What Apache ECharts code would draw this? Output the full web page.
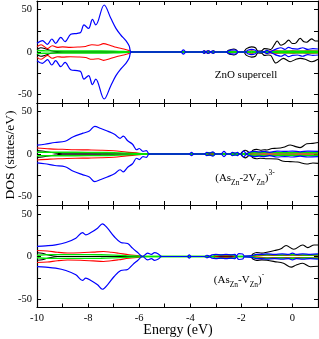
<!DOCTYPE html>
<html><head><meta charset="utf-8">
<script src="https://cdn.jsdelivr.net/npm/echarts@6/dist/echarts.min.js"></script>
<style>html,body{margin:0;padding:0;background:#fff}#c{width:319px;height:339px}</style>
</head><body><div id="c"></div>
<script>
// ---- tick values ----
const energyTicks = [-10,-9,-8,-7,-6,-5,-4,-3,-2,-1,0];
const energyLabels = [-10,-8,-6,-4,-2,0];
const dosTicks = [-50,-25,0,25,50];
const dosLabels = [-50,0,50];
const panelTitles = ['ZnO supercell', '{n|(As}{s|Zn}{n|-2V}{s|Zn}{n|)}{p|3-}', '{n|(As}{s|Zn}{n|-V}{s|Zn}{n|)}{p|-}'];

// ---- panel 1 : ZnO supercell (spin up; spin down mirrored unless given) ----
const p1Black = [[-10,3],[-9.85,5],[-9.65,3.5],[-9.45,1.5],[-9.2,0.5],[-8.9,0],[-3.55,0],[-3.45,1.5],[-3.38,0.5],[-3.3,1.5],[-3.2,0.5],[-3.1,1.5],[-2.98,0],[-2.6,0],[-2.5,2],[-2.4,3],[-2.3,3.5],[-2.2,2.5],[-2.12,0],[-1.9,0.5],[-1.8,4],[-1.6,6],[-1.45,5],[-1.35,1],[-1.2,1.5],[-1.1,4],[-0.95,3.5],[-0.85,3],[-0.7,9],[-0.6,13],[-0.45,8],[-0.3,10],[-0.15,14],[0,10],[0.1,10],[0.3,16],[0.45,12],[0.55,11.5],[0.75,15.5],[0.9,13],[1,13]];
const p1BlackDown = [[-10,-3],[-9.85,-5],[-9.65,-3.5],[-9.45,-1.5],[-9.2,-0.5],[-8.9,0],[-3.55,0],[-3.45,-1.5],[-3.38,-0.5],[-3.3,-1.5],[-3.2,-0.5],[-3.1,-1.5],[-2.98,0],[-2.6,0],[-2.5,-2],[-2.4,-3],[-2.3,-3.5],[-2.2,-2.5],[-2.12,0],[-1.9,-0.5],[-1.8,-4],[-1.6,-6],[-1.45,-5],[-1.35,-1],[-1.2,-1.5],[-1.1,-4],[-0.95,-3.5],[-0.85,-4],[-0.65,-13],[-0.35,-7.5],[-0.09,-11.4],[0.1,-9],[0.3,-7.5],[0.5,-8.5],[0.76,-11.4],[1,-8.5]];
const p1Red = [[-10,6.3],[-9.84,8.6],[-9.59,4],[-9.4,7.4],[-9.2,5.5],[-9,6],[-8.7,5.5],[-8.4,5.8],[-8.1,6.5],[-7.85,8.6],[-7.6,8],[-7.4,9.8],[-7.15,8],[-6.9,5.5],[-6.6,3.5],[-6.4,1.8],[-6.3,0],[-3.5,0],[-3.3,0.8],[-3.1,0],[-2.5,0],[-2.35,1],[-2.2,0],[-1.8,0],[-1.6,1.5],[-1.4,0],[-1.1,0],[-0.9,1],[-0.6,1.5],[-0.3,1],[0,1.5],[0.3,1],[0.6,1.5],[1,1]];
const p1Green = [[-10,1.8],[-9.7,1.5],[-9.3,1.3],[-8.5,1.2],[-7.5,1.2],[-7,1],[-6.6,0.6],[-6.3,0],[-1.7,0],[-1.6,1],[-1.45,0],[-1.0,0],[-0.5,0.8],[0,0.8],[0.5,0.8],[1,0.8]];
const p1Blue = [[-10,10.2],[-9.79,13.3],[-9.59,9],[-9.42,15.3],[-9.27,10.2],[-9.07,17.3],[-8.9,12.2],[-8.68,20.8],[-8.42,22],[-8.29,23],[-8.16,31.8],[-7.98,27.8],[-7.83,38.4],[-7.7,31.8],[-7.37,55.3],[-7.11,39.6],[-6.91,27.8],[-6.72,20],[-6.52,13.3],[-6.39,7],[-6.3,0],[-4.38,0],[-4.27,2.5],[-4.16,0],[-3.55,0],[-3.47,1.5],[-3.4,0.3],[-3.3,1.5],[-3.2,0.3],[-3.1,1.5],[-3.0,0],[-2.6,0],[-2.5,1.5],[-2.35,2.5],[-2.2,2],[-2.12,0],[-1.85,0],[-1.75,2],[-1.6,3],[-1.45,2],[-1.35,0],[-1.15,0],[-1.0,2],[-0.87,0.5],[-0.75,2],[-0.6,4],[-0.45,5],[-0.3,3],[-0.15,5.5],[0,4],[0.2,3.5],[0.4,5],[0.6,3],[0.8,4],[1,3.5]];

// ---- panel 2 : (As_Zn-2V_Zn)3- ----
const p2Black = [[-10,4],[-9.8,3.5],[-9.5,2],[-9.2,0.8],[-9,0],[-2.05,0],[-1.95,3],[-1.85,4.5],[-1.75,3],[-1.66,1],[-1.55,4.5],[-1.4,5.5],[-1.25,4.5],[-1.1,5],[-1.0,4.7],[-0.8,6.5],[-0.61,6.7],[-0.35,8],[-0.09,10.6],[0.1,9],[0.3,7.5],[0.56,12],[0.8,12.5],[1,13.5]];
const p2BlackDown = [[-10,-4],[-9.8,-3.5],[-9.5,-2],[-9.2,-0.8],[-9,0],[-2.05,0],[-1.95,-3],[-1.85,-4.5],[-1.75,-3],[-1.66,-1],[-1.55,-4.5],[-1.4,-5.5],[-1.25,-5],[-1.0,-5.5],[-0.61,-5.9],[-0.35,-8.5],[-0.09,-9],[0.2,-9.5],[0.56,-11.8],[0.8,-10.5],[1,-11]];
const p2Red = [[-10,7],[-9.5,6],[-9,5.5],[-8.5,5],[-8,4.8],[-7.5,4.5],[-7,3.8],[-6.5,2.2],[-6,0.8],[-5.8,0],[-3.0,0],[-2.9,0.5],[-2.6,0],[-1.8,0],[-1.5,1],[-1.0,1],[-0.5,0.8],[0,1],[0.5,0.8],[1,1]];
const p2Green = [[-10,2],[-9.5,2],[-8.5,2],[-7.5,1.8],[-7,1.5],[-6.5,1],[-6,0.4],[-5.8,0],[-3.45,0],[-3.3,1.5],[-3.1,1.5],[-3,0],[-2.45,0],[-2.3,1.2],[-2.1,0],[-1.8,0],[-1.6,1.5],[-1.3,1.5],[-1,1.8],[-0.5,1.5],[0,1.5],[0.5,1.8],[1,1.5]];
const p2Blue = [[-10,10.5],[-9.7,11.5],[-9.3,13.5],[-8.9,15],[-8.6,20],[-8.2,24.5],[-7.95,27],[-7.74,32.5],[-7.5,30],[-7.25,27],[-6.95,23],[-6.75,18.5],[-6.62,21],[-6.45,15.5],[-6.26,11.5],[-6.1,5],[-6.0,6.5],[-5.85,3],[-5.72,4],[-5.6,0],[-4.05,0],[-3.95,2],[-3.85,0],[-3.45,0],[-3.35,2],[-3.25,1],[-3.12,2.5],[-3.0,0],[-2.8,0],[-2.68,3],[-2.56,0],[-2.45,0],[-2.35,2],[-2.25,1],[-2.15,2],[-2.08,0],[-2.02,0],[-1.92,3.5],[-1.8,0.5],[-1.7,2],[-1.5,3],[-1.3,2.5],[-1.1,3],[-0.9,2],[-0.6,3.5],[-0.3,3],[0,3.5],[0.3,2.5],[0.6,3.5],[1,3]];

// ---- panel 3 : (As_Zn-V_Zn)- ----
const p3Black = [[-10,4.5],[-9.8,3.8],[-9.6,2],[-9.4,0.8],[-9.2,0],[-1.65,0],[-1.55,3],[-1.4,4.7],[-1.2,4],[-1.0,5],[-0.7,7],[-0.45,9],[-0.25,13],[0.05,8.5],[0.4,13.5],[0.6,10.5],[0.85,13.5],[1,13.5]];
const p3BlackDown = [[-10,-4.5],[-9.8,-3.8],[-9.6,-2],[-9.4,-0.8],[-9.2,0],[-1.65,0],[-1.55,-3],[-1.4,-4.5],[-1.2,-4],[-1.0,-4.5],[-0.7,-6],[-0.35,-8],[-0.05,-12.5],[0.15,-10],[0.4,-8],[0.7,-12],[1,-11.5]];
const p3Red = [[-10,7],[-9.6,6.5],[-9.2,5],[-8.8,4.2],[-8.3,4.5],[-7.8,5.2],[-7.4,5.8],[-7.1,5],[-6.8,3.8],[-6.4,2],[-6.0,0.8],[-5.85,0],[-3.1,0],[-2.8,1],[-2.4,1],[-2.2,0],[-1.6,0],[-1.3,1],[-1,1.5],[-0.5,1.2],[0,1.5],[0.5,1.2],[1,1.5]];
const p3Green = [[-10,1.5],[-9.5,2.2],[-8.5,2.2],[-7.5,2],[-7,1.6],[-6.5,1],[-6,0.4],[-5.8,0],[-3.15,0],[-3.0,1.8],[-2.6,2],[-2.3,1.8],[-2.2,0],[-1.7,0],[-1.4,1.8],[-1,2],[-0.5,1.8],[0,2],[0.5,1.8],[1,2]];
const p3Blue = [[-10,11.8],[-9.66,12.5],[-9.27,13.7],[-8.87,16.5],[-8.48,21.6],[-8.22,28.2],[-8.09,25.5],[-7.89,28.2],[-7.63,33.3],[-7.44,38.5],[-7.24,33.3],[-6.98,23.5],[-6.72,16.5],[-6.45,15.3],[-6.26,9.8],[-6.06,4.7],[-5.87,0],[-5.67,4],[-5.52,2.5],[-5.4,4.5],[-5.25,3],[-5.12,0],[-4.12,0],[-4.04,2],[-3.96,0],[-3.45,0],[-3.35,1.5],[-3.25,0.5],[-3.15,2],[-3.0,2.5],[-2.8,2],[-2.6,2.5],[-2.4,2],[-2.25,2.5],[-2.2,0.5],[-2.1,3.5],[-1.95,3],[-1.88,0.5],[-1.6,1],[-1.4,2.5],[-1.2,2.5],[-1,3],[-0.7,2.5],[-0.4,3],[-0.15,2.5],[0,4],[0.15,2.5],[0.4,3],[0.7,2.5],[1,3]];

const panels = [
  {black:p1Black, blackDown:p1BlackDown, red:p1Red, green:p1Green, blue:p1Blue},
  {black:p2Black, blackDown:p2BlackDown, red:p2Red, green:p2Green, blue:p2Blue},
  {black:p3Black, blackDown:p3BlackDown, red:p3Red, green:p3Green, blue:p3Blue}
];

const FONT = '"Liberation Serif", "Times New Roman", serif';
const gridTops = [1, 103, 205.5];
const gridH = 102;
const grids = gridTops.map(t => ({left:37, right:1, top:t, height:gridH, containLabel:false}));
const xAxes = [], yAxes = [], series = [];
const axisLine = {show:true, onZero:false, lineStyle:{color:'#000', width:1.2}};
const mirror = d => d.map(p => [p[0], -p[1]]);

grids.forEach((g, i) => {
  const base = {type:'value', gridIndex:i, min:-10, max:1, splitLine:{show:false}, axisLine,
    axisTick:{show:true, inside:true, length:4, customValues:energyTicks, lineStyle:{color:'#000', width:1}}};
  xAxes.push(Object.assign({}, base, {position:'bottom',
    axisLabel:{show:i===2, customValues:energyLabels, color:'#000', fontFamily:FONT, fontSize:10.5, margin:5}}));
  xAxes.push(Object.assign({}, base, {position:'top', axisLabel:{show:false}}));
  const ybase = {type:'value', gridIndex:i, min:-60, max:60, splitLine:{show:false}, axisLine,
    axisTick:{show:true, inside:true, length:4, customValues:dosTicks, lineStyle:{color:'#000', width:1}}};
  yAxes.push(Object.assign({}, ybase, {position:'left',
    axisLabel:{show:true, customValues:dosLabels, color:'#000', fontFamily:FONT, fontSize:10.5, margin:5}}));
  yAxes.push(Object.assign({}, ybase, {position:'right', axisLabel:{show:false}}));
});

function addLine(i, data, color, width) {
  series.push({type:'line', xAxisIndex:2*i, yAxisIndex:2*i, data, showSymbol:false, smooth:0.35,
    lineStyle:{color, width}, itemStyle:{color}, silent:true, animation:false});
}
panels.forEach((p, i) => {
  addLine(i, p.black, '#000000', 1.1);
  addLine(i, p.blackDown, '#000000', 1.1);
  addLine(i, p.red, '#ff0000', 1.1);
  addLine(i, mirror(p.red), '#ff0000', 1.1);
  addLine(i, p.green, '#00e600', 1.4);
  addLine(i, mirror(p.green), '#00e600', 1.4);
  addLine(i, p.blue, '#0000ff', 1.2);
  addLine(i, mirror(p.blue), '#0000ff', 1.2);
});

const rich = {
  n:{fontFamily:FONT, fontSize:11, color:'#000', lineHeight:18, verticalAlign:'middle'},
  s:{fontFamily:FONT, fontSize:7.5, color:'#000', lineHeight:18, verticalAlign:'bottom'},
  p:{fontFamily:FONT, fontSize:7.5, color:'#000', lineHeight:18, verticalAlign:'top'}
};
const titlePos = [[246,75],[245,178],[239,280]];
const graphic = [
  {type:'text', x:10, y:155, rotation:Math.PI/2, style:{text:'DOS (states/eV)', font:'13.5px ' + FONT, fill:'#000', align:'center', verticalAlign:'middle'}},
  {type:'text', x:178, y:330, style:{text:'Energy (eV)', font:'14px ' + FONT, fill:'#000', align:'center', verticalAlign:'middle'}}
];
panelTitles.forEach((t, i) => {
  graphic.push({type:'text', x:titlePos[i][0], y:titlePos[i][1],
    style:{text:t, rich, font:'11px ' + FONT, fill:'#000', align:'center', verticalAlign:'middle'}});
});

const chart = echarts.init(document.getElementById('c'), null, {renderer:'canvas'});
chart.setOption({animation:false, backgroundColor:'#fff', grid:grids, xAxis:xAxes, yAxis:yAxes, series, graphic});
</script></body></html>
